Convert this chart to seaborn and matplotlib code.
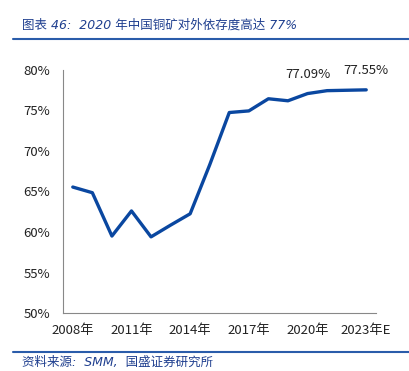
import matplotlib
matplotlib.use("Agg")
import matplotlib.pyplot as plt
import seaborn as sns
import pandas as pd
import numpy as np
from matplotlib.lines import Line2D

years = ["2008年", "2009年", "2010年", "2011年", "2012年", "2013年", "2014年", "2015年",
         "2016年", "2017年", "2018年", "2019年", "2020年", "2021年", "2022年", "2023年E"]
values = [65.55, 64.85, 59.5, 62.6, 59.4, 60.85, 62.25, 68.3,
          74.75, 74.95, 76.45, 76.2, 77.09, 77.45, 77.5, 77.55]
label_years = ["2008年", "2011年", "2014年", "2017年", "2020年", "2023年E"]
annot_years = ["2020年", "2023年E"]
annot_text = ["77.09%", "77.55%"]

sns.set_style("white")
plt.rcParams['font.family'] = ['Noto Sans CJK SC', 'DejaVu Sans']

fig = plt.figure(figsize=(4.09, 3.71), dpi=100)
ax = fig.add_axes([63/409, 1-313/371, (376-63)/409, (313-70)/371])

df = pd.DataFrame({"idx": np.arange(len(years)), "value": values})
sns.lineplot(data=df, x="idx", y="value", ax=ax, color="#0a47a0", linewidth=2.4)

ax.set_xlim(-0.5, len(years) - 0.5)
ax.set_ylim(50, 80)
ax.set_yticks([50, 55, 60, 65, 70, 75, 80])
ax.set_yticklabels([f"{v}%" for v in [50, 55, 60, 65, 70, 75, 80]], fontsize=9.5, color="#222222")
major = [years.index(y) for y in label_years]
ax.set_xticks(major)
ax.set_xticklabels(label_years, fontsize=9.5, color="#222222")
ax.set_xticks(np.arange(-0.5, len(years)), minor=True)
ax.tick_params(axis='x', which='major', length=0, pad=8)
ax.tick_params(axis='x', which='minor', length=3, direction='in', color="#888888", width=0.8)
ax.tick_params(axis='y', which='major', length=3, direction='in', color="#888888", width=0.8, pad=9)
ax.set_xlabel("")
ax.set_ylabel("")
for s in ["top", "right"]:
    ax.spines[s].set_visible(False)
for s in ["left", "bottom"]:
    ax.spines[s].set_color("#888888")
    ax.spines[s].set_linewidth(0.8)

for yr, txt in zip(annot_years, annot_text):
    i = years.index(yr)
    ax.annotate(txt, (i, values[i]), xytext=(0, 9), textcoords="offset points",
                ha="center", va="bottom", fontsize=9.5, color="#222222")

tcol = "#1f3f8f"
fig.text(22/409, 1-25/371, "图表 46:  2020 年中国铜矿对外依存度高达 77%", fontsize=9,
         style="italic", color=tcol, va="center", ha="left",
         family=['DejaVu Sans', 'Noto Sans CJK SC'])
fig.add_artist(Line2D([13/409, 1.0], [1-39/371, 1-39/371], color="#2a5caa", linewidth=1.5,
                      transform=fig.transFigure))
fig.add_artist(Line2D([13/409, 1.0], [1-352/371, 1-352/371], color="#2a5caa", linewidth=1.5,
                      transform=fig.transFigure))
fig.text(22/409, 1-362/371, "资料来源:  SMM,  国盛证券研究所", fontsize=9,
         style="italic", color=tcol, va="center", ha="left",
         family=['DejaVu Sans', 'Noto Sans CJK SC'])

fig.savefig("out.png", dpi=100)
